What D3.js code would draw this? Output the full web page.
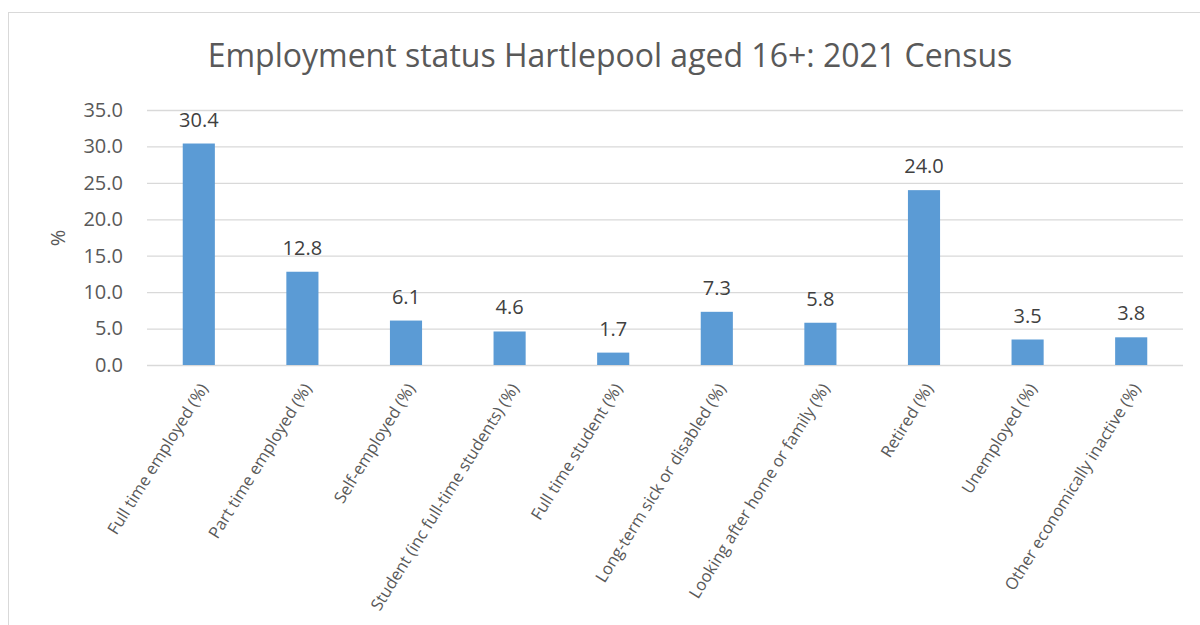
<!DOCTYPE html>
<html>
<head>
<meta charset="utf-8">
<script src="https://cdn.jsdelivr.net/npm/d3@7"></script>
<style>
  body { margin: 0; background: #fff; }
  text { font-family: "Open Sans", "Liberation Sans", sans-serif; }
</style>
</head>
<body>
<div id="chart"></div>
<script>
// chart data
var categories = [
    "Full time employed (%)",
    "Part time employed (%)",
    "Self-employed (%)",
    "Student (inc full-time students) (%)",
    "Full time student (%)",
    "Long-term sick or disabled (%)",
    "Looking after home or family (%)",
    "Retired (%)",
    "Unemployed (%)",
    "Other economically inactive (%)"
];
var values = [30.4, 12.8, 6.1, 4.6, 1.7, 7.3, 5.8, 24.0, 3.5, 3.8];
var yTicks = [0, 5, 10, 15, 20, 25, 30, 35];

var svgWidth = 1200;
var svgHeight = 625;

var margin = {top: 110, right: 17, bottom: 260, left: 147};
var chartWidth = svgWidth - margin.left - margin.right;
var chartHeight = svgHeight - margin.top - margin.bottom;

var svg = d3.select("#chart").append("svg")
    .attr("width", svgWidth)
    .attr("height", svgHeight);

// outer chart border (only left and top visible)
svg.append("rect")
    .attr("x", 8.5)
    .attr("y", 12.5)
    .attr("width", 1250)
    .attr("height", 700)
    .attr("fill", "none")
    .attr("stroke", "#d9d9d9")
    .attr("stroke-width", 1);

var chartGroup = svg.append("g")
    .attr("transform", `translate(${margin.left}, ${margin.top})`);

var xScale = d3.scaleBand()
    .domain(categories)
    .range([0, chartWidth])
    .paddingInner(0.69)
    .paddingOuter(0.345);

var yScale = d3.scaleLinear()
    .domain([0, 35])
    .range([chartHeight, 0]);

// gridlines
chartGroup.append("g")
    .selectAll("line")
    .data(yTicks)
    .enter()
    .append("line")
    .attr("x1", 0)
    .attr("x2", chartWidth)
    .attr("y1", d => yScale(d) + 0.5)
    .attr("y2", d => yScale(d) + 0.5)
    .attr("stroke", "#d9d9d9")
    .attr("stroke-width", 1.3);

// y axis
var leftAxis = d3.axisLeft(yScale)
    .tickValues(yTicks)
    .tickFormat(d3.format(".1f"))
    .tickSize(0)
    .tickPadding(24);

var yAxis = chartGroup.append("g").call(leftAxis);
yAxis.select(".domain").remove();
yAxis.selectAll("text")
    .attr("fill", "#595959")
    .style("font-size", "20px");

// bars
chartGroup.selectAll("rect.bar")
    .data(values)
    .enter()
    .append("rect")
    .attr("class", "bar")
    .attr("x", (d, i) => xScale(categories[i]))
    .attr("y", d => yScale(d))
    .attr("width", xScale.bandwidth())
    .attr("height", d => chartHeight - yScale(d))
    .attr("fill", "#5b9bd5");

// value labels
chartGroup.selectAll("text.value")
    .data(values)
    .enter()
    .append("text")
    .attr("class", "value")
    .attr("x", (d, i) => xScale(categories[i]) + xScale.bandwidth() / 2)
    .attr("y", d => yScale(d) - 17)
    .attr("text-anchor", "middle")
    .attr("fill", "#404040")
    .style("font-size", "20px")
    .text(d => d.toFixed(1));

// x axis labels
var bottomAxis = d3.axisBottom(xScale).tickSize(0).tickPadding(0);
var xAxis = chartGroup.append("g")
    .attr("transform", `translate(0, ${chartHeight})`)
    .call(bottomAxis);
xAxis.select(".domain").remove();
xAxis.selectAll("text")
    .attr("fill", "#595959")
    .style("font-size", "16.5px")
    .attr("text-anchor", "end")
    .attr("dy", "0.35em")
    .attr("transform", "translate(5, 20) rotate(-58)")
    .attr("y", 0)
    .attr("x", 0);

// y axis title
svg.append("text")
    .attr("transform", "rotate(-90)")
    .attr("x", -238)
    .attr("y", 65)
    .attr("text-anchor", "middle")
    .attr("fill", "#595959")
    .style("font-size", "20px")
    .text("%");

// chart title
svg.append("text")
    .attr("x", 610)
    .attr("y", 67)
    .attr("text-anchor", "middle")
    .attr("fill", "#595959")
    .style("font-size", "32px")
    .text("Employment status Hartlepool aged 16+: 2021 Census");
</script>
</body>
</html>
